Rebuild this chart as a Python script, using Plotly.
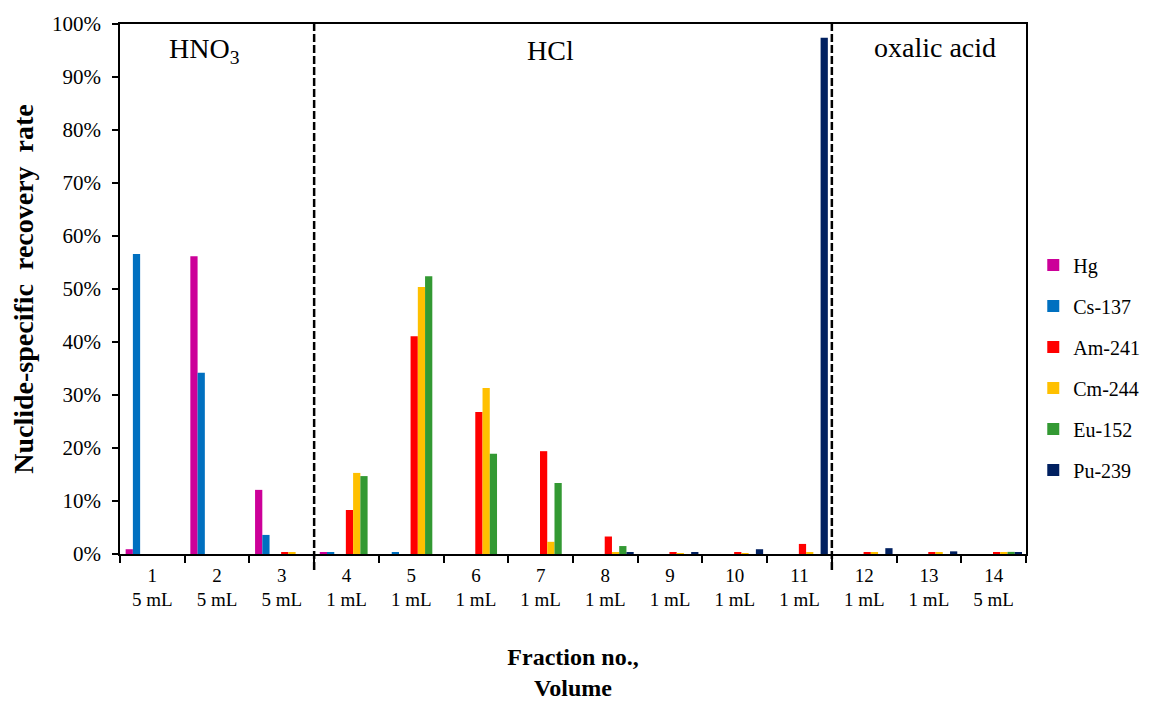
import plotly.graph_objects as go

# ---- data (values in %) ----
fractions = ["1", "2", "3", "4", "5", "6", "7", "8", "9", "10", "11", "12", "13", "14"]
volumes = ["5 mL", "5 mL", "5 mL", "1 mL", "1 mL", "1 mL", "1 mL", "1 mL", "1 mL",
           "1 mL", "1 mL", "1 mL", "1 mL", "5 mL"]
series_names = ["Hg", "Cs-137", "Am-241", "Cm-244", "Eu-152", "Pu-239"]
hg    = [0.9, 56.2, 12.1, 0.2, 0.0, 0.0, 0.0, 0.0, 0.0, 0.0, 0.0, 0.0, 0.0, 0.0]
cs137 = [56.6, 34.2, 3.6, 0.2, 0.2, 0.0, 0.0, 0.0, 0.0, 0.0, 0.0, 0.0, 0.0, 0.0]
am241 = [0.0, 0.0, 0.3, 8.3, 41.1, 26.8, 19.4, 3.3, 0.2, 0.2, 1.9, 0.2, 0.2, 0.2]
cm244 = [0.0, 0.0, 0.2, 15.3, 50.4, 31.3, 2.3, 0.2, 0.15, 0.15, 0.2, 0.2, 0.2, 0.2]
eu152 = [0.0, 0.0, 0.0, 14.7, 52.4, 18.9, 13.4, 1.5, 0.0, 0.0, 0.0, 0.0, 0.0, 0.4]
pu239 = [0.0, 0.0, 0.0, 0.0, 0.0, 0.0, 0.0, 0.3, 0.2, 0.9, 97.4, 1.1, 0.5, 0.3]
section_labels = ["HNO<sub>3</sub>", "HCl", "oxalic acid"]

# ---- styling ----
colors = ["#CC0099", "#0070C0", "#FF0000", "#FFC000", "#339933", "#002060"]
offsets = [-0.413, -0.301, -0.01, 0.102, 0.214, 0.326]
bar_w = 0.112
FONT = "Liberation Serif, Times New Roman, serif"

cats = [f"{f}<br>{v}" for f, v in zip(fractions, volumes)]
values = [hg, cs137, am241, cm244, eu152, pu239]

fig = go.Figure()
for name, vals, col, off in zip(series_names, values, colors, offsets):
    fig.add_trace(go.Bar(
        x=cats, y=vals, name=name, marker=dict(color=col, line=dict(width=0)),
        offset=off, width=bar_w, legendgroup=name,
    ))

# dashed separators
for xb in [2.5, 10.5]:
    fig.add_shape(type="line", xref="x", yref="paper", x0=xb, x1=xb, y0=-0.03, y1=1,
                  line=dict(color="black", width=2.5, dash="8px,3px"))

# section labels
for txt, xp, yp in zip(section_labels, [0.81, 6.15, 12.1], [95.0, 95.0, 95.6]):
    fig.add_annotation(x=xp, y=yp, xref="x", yref="y", text=txt, showarrow=False,
                       font=dict(family=FONT, size=28, color="black"))

# page body has an 8px margin: place the figure so the plot lands where the reference has it
fig.update_layout(
    width=1143, height=701,
    margin=dict(l=112, r=125, t=16, b=155),
    paper_bgcolor="white", plot_bgcolor="white",
    barmode="overlay",
    font=dict(family=FONT, size=20, color="black"),
    showlegend=True,
    legend=dict(xref="container", x=0.897, xanchor="left",
                yref="paper", y=0.582, yanchor="top",
                font=dict(family=FONT, size=20), tracegroupgap=12,
                bgcolor="rgba(0,0,0,0)"),
)
fig.update_xaxes(
    type="category", range=[-0.5, 13.5], tickson="boundaries", automargin=False,
    showline=True, linecolor="black", linewidth=1.5, mirror=True,
    ticks="outside", ticklen=7, tickcolor="black", tickwidth=1.5,
    showgrid=False, tickfont=dict(family=FONT, size=19), ticklabelstandoff=3,
    title=dict(text="<b>Fraction no.,<br>Volume</b>", font=dict(family=FONT, size=24), standoff=39),
)
fig.update_yaxes(
    range=[0, 100], dtick=10, ticksuffix="%", automargin=False,
    showline=True, linecolor="black", linewidth=1.5, mirror=True,
    ticks="outside", ticklen=6, tickcolor="black", tickwidth=1.5,
    showgrid=False, zeroline=False, tickfont=dict(family=FONT, size=21), ticklabelstandoff=7,
    title=dict(text="<b>Nuclide-specific  recovery  rate</b>", font=dict(family=FONT, size=28), standoff=14),
)

fig.write_html("out.html")
